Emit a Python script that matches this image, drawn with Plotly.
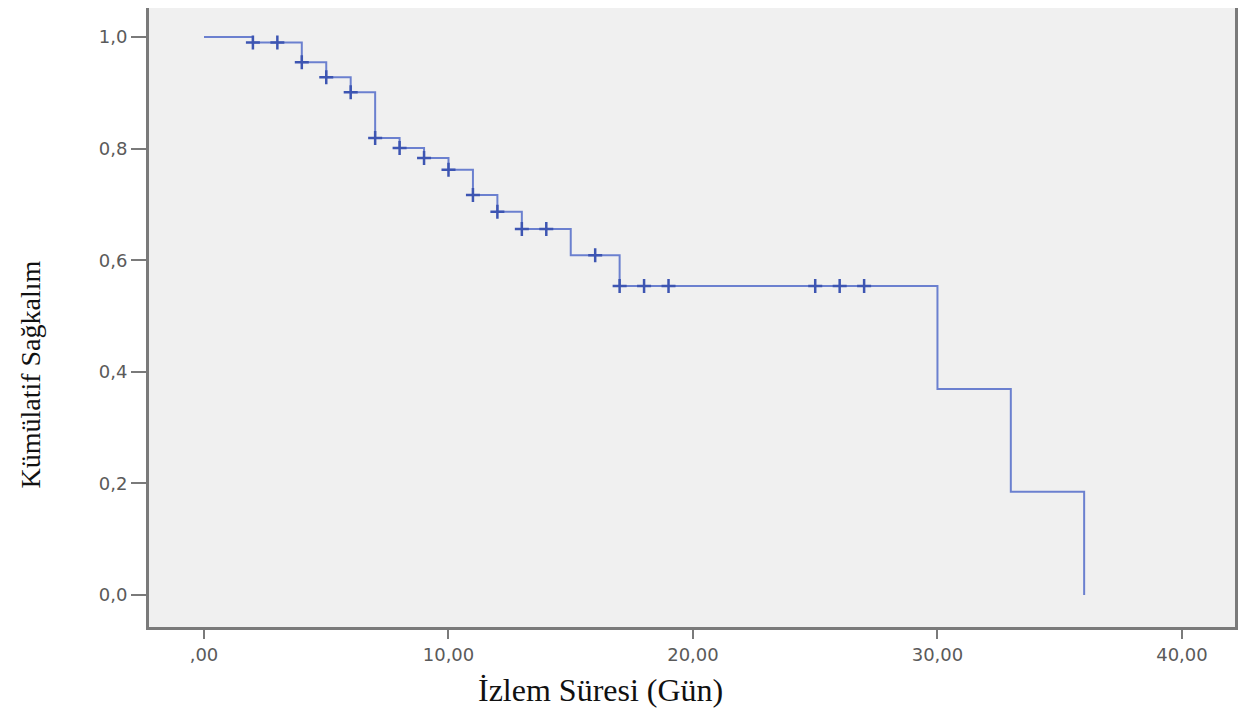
import numpy as np
import plotly.graph_objects as go

# Kaplan-Meier step data (time in days, cumulative survival)
event_times = [0, 2, 4, 5, 6, 7, 8, 9, 10, 11, 12, 13, 15, 17, 30, 33, 36]
survival = [1.0, 0.99, 0.955, 0.928, 0.901, 0.819, 0.801, 0.783, 0.762,
            0.717, 0.687, 0.656, 0.609, 0.554, 0.369, 0.185, 0.0]

# Censored observation times
censor_times = [2, 3, 4, 5, 6, 7, 8, 9, 10, 11, 12, 13, 14, 16, 17, 18, 19, 25, 26, 27]

x_tickvals = [0, 10, 20, 30, 40]
x_ticktext = [",00", "10,00", "20,00", "30,00", "40,00"]
y_tickvals = [0.0, 0.2, 0.4, 0.6, 0.8, 1.0]
y_ticktext = ["0,0", "0,2", "0,4", "0,6", "0,8", "1,0"]

et = np.array(event_times, dtype=float)
sv = np.array(survival, dtype=float)
ct = np.array(censor_times, dtype=float)
censor_surv = sv[np.searchsorted(et, ct, side="right") - 1]

LINE_COLOR = "#6b80cf"
MARK_COLOR = "#3d55b2"

fig = go.Figure()
fig.add_trace(go.Scatter(
    x=event_times, y=survival, mode="lines", line_shape="hv",
    line=dict(color=LINE_COLOR, width=2), name="Sağkalım Fonksiyonu",
))
fig.add_trace(go.Scatter(
    x=ct, y=censor_surv, mode="markers",
    marker=dict(symbol="cross-thin", size=10,
                line=dict(color=MARK_COLOR, width=2.5), color=MARK_COLOR),
    name="Sansürlü",
))

axis_common = dict(
    showline=True, linecolor="#7a7a7a", linewidth=3, mirror=True,
    showgrid=False, zeroline=False, ticks="outside", tickcolor="#7a7a7a",
    tickwidth=2,
    tickfont=dict(family="DejaVu Sans", size=18, color="#5a5a5a"),
)

fig.update_xaxes(range=[-2.25, 42.17], tickvals=x_tickvals, ticktext=x_ticktext,
                 ticklen=9, **axis_common)
fig.update_yaxes(range=[-0.0573, 1.052], tickvals=y_tickvals, ticktext=y_ticktext,
                 ticklen=15, **axis_common)

fig.update_layout(
    width=1244, height=710,
    margin=dict(l=141, r=17, t=0, b=91, autoexpand=False),
    plot_bgcolor="#f0f0f0", paper_bgcolor="white",
    showlegend=False,
    annotations=[
        dict(text="İzlem Süresi (Gün)", xref="paper", yref="paper",
             x=(600 - 149) / (1235 - 149), y=-0.102, xanchor="center",
             yanchor="middle", showarrow=False,
             font=dict(family="Liberation Serif", size=32, color="#111111")),
        dict(text="Kümülatif Sağkalım", xref="paper", yref="paper",
             x=-0.11, y=(627 - 375) / (627 - 8), xanchor="center",
             yanchor="middle", showarrow=False, textangle=-90,
             font=dict(family="Liberation Serif", size=28, color="#111111")),
    ],
)

fig.write_html("out.html")
